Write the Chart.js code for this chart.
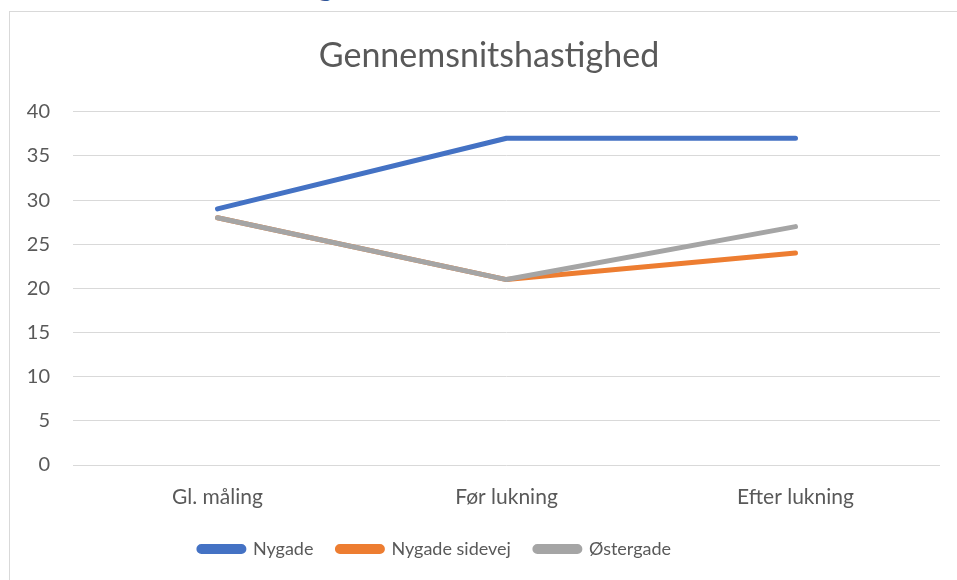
<!DOCTYPE html>
<html lang="da">
<head>
  <meta charset="UTF-8" />
  <title>Gennemsnitshastighed</title>
  <script src="https://cdn.jsdelivr.net/npm/chart.js@4/dist/chart.umd.min.js"></script>
  <style>
    body { margin: 0; background: #fff; overflow: hidden; }
    #stub { position: absolute; left: 316px; top: -41px; font: 36px Lato, sans-serif; color: #2f5597; }
    #boks { position: absolute; left: 9px; top: 11px; width: 960px; height: 580px;
            border-left: 1px solid #d9d9d9; border-top: 1px solid #d9d9d9; }
  </style>
</head>
<body>
  <div id="stub">g</div>
  <div id="boks"><canvas id="graf" width="960" height="569"></canvas></div>

<script>
  // data
  const kategorier = ["Gl. måling", "Før lukning", "Efter lukning"];
  const nygade = [29, 37, 37];
  const nygadeSidevej = [28, 21, 24];
  const ostergade = [28, 21, 27];
  const yTicks = [0, 5, 10, 15, 20, 25, 30, 35, 40];

  const tekstFarve = '#595959';
  const skrift = 'Lato, "Open Sans", sans-serif';

  function serie(navn, data, farve, orden) {
    return {
      label: navn,
      data: data,
      borderColor: farve,
      backgroundColor: farve,
      borderWidth: 5,
      borderCapStyle: 'round',
      borderJoinStyle: 'round',
      pointRadius: 0,
      pointHoverRadius: 0,
      tension: 0,
      fill: false,
      order: orden
    };
  }

  // flytter titel og forklaring lidt, så de sidder som i Excel-figuren
  const flyt = {
    id: 'flyt',
    afterLayout(chart) {
      const t = chart.titleBlock, l = chart.legend;
      t.left += 14; t.right += 14;
      l.left -= 40; l.right -= 40;
    }
  };

  const ctx = document.getElementById('graf').getContext('2d');
  new Chart(ctx, {
    type: 'line',
    data: {
      labels: kategorier,
      datasets: [
        serie('Nygade', nygade, '#4472c4', 3),
        serie('Nygade sidevej', nygadeSidevej, '#ed7d31', 2),
        serie('Østergade', ostergade, '#a5a5a5', 1)
      ]
    },
    plugins: [flyt],
    options: {
      responsive: false,
      animation: false,
      layout: { padding: { left: 0, right: 30, top: 0, bottom: 13 } },
      plugins: {
        title: {
          display: true,
          text: 'Gennemsnitshastighed',
          color: tekstFarve,
          font: { family: skrift, size: 34, weight: 'normal' },
          padding: { top: 24, bottom: 35 }
        },
        legend: {
          position: 'bottom',
          labels: {
            color: tekstFarve,
            font: { family: skrift, size: 18 },
            boxWidth: 45,
            boxHeight: 5,
            useBorderRadius: true,
            borderRadius: 2.5,
            padding: 24,
            sort: (a, b) => a.datasetIndex - b.datasetIndex
          }
        },
        tooltip: { enabled: false }
      },
      scales: {
        x: {
          offset: true,
          afterFit: s => { s.height = 51; },
          grid: { display: false },
          border: { display: false },
          ticks: { color: tekstFarve, font: { family: skrift, size: 21 }, padding: 12 }
        },
        y: {
          min: 0,
          max: 40,
          afterBuildTicks: s => { s.ticks = yTicks.map(v => ({ value: v })); },
          afterFit: s => { s.width = 63; },
          grid: { color: '#d9d9d9', lineWidth: 1, drawTicks: false },
          border: { display: false },
          ticks: { color: tekstFarve, font: { family: skrift, size: 20 }, padding: 23 }
        }
      }
    }
  });
</script>
</body>
</html>
